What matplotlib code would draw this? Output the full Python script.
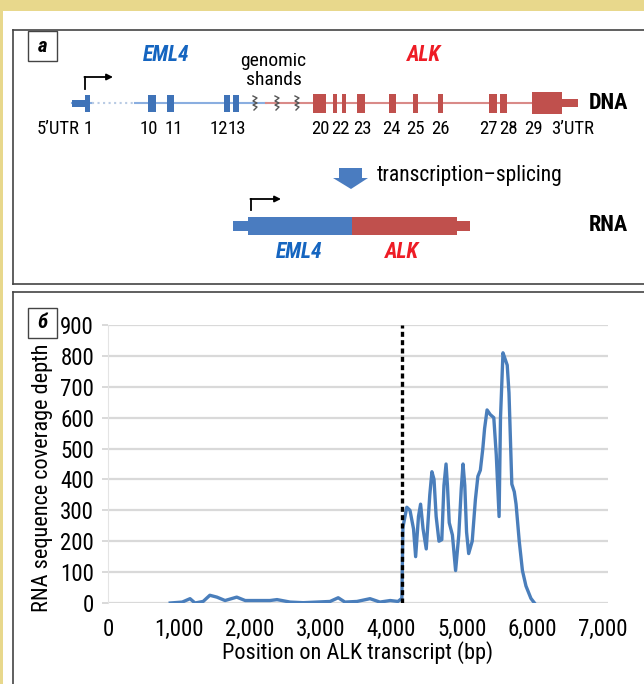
import matplotlib
matplotlib.use("Agg")
import matplotlib.pyplot as plt
from matplotlib.patches import Rectangle, Polygon

# ---- coverage profile ----
position_bp = [880, 1050, 1160, 1230, 1345, 1440, 1540, 1655, 1820, 1940,
               2105, 2290, 2390, 2575, 2760, 2950, 3140, 3255, 3350, 3520,
               3705, 3845, 3990, 4100, 4155, 4170, 4225, 4270, 4320, 4350,
               4390, 4420, 4455, 4500, 4550, 4580, 4610, 4640, 4680, 4720,
               4750, 4780, 4800, 4825, 4870, 4915, 4960, 4995, 5020, 5045,
               5070, 5100, 5150, 5195, 5230, 5265, 5300, 5325, 5360, 5405,
               5455, 5490, 5530, 5550, 5585, 5615, 5645, 5670, 5710, 5745,
               5770, 5815, 5860, 5910, 5980, 6030]
coverage = [0, 3, 14, 0, 5, 25, 19, 8, 19, 8,
            8, 8, 11, 3, 1, 3, 5, 17, 3, 5,
            14, 3, 8, 5, 15, 245, 310, 300, 240, 150,
            280, 320, 240, 175, 350, 425, 400, 280, 200, 205,
            380, 450, 380, 260, 220, 105, 220, 370, 450, 380,
            230, 160, 200, 335, 410, 430, 500, 565, 625, 610,
            600, 480, 280, 600, 810, 790, 770, 680, 385, 360,
            320, 200, 105, 55, 15, 0]
breakpoint_bp = 4160

y_ticks = [0, 100, 200, 300, 400, 500, 600, 700, 800, 900]
x_ticks = [0, 1000, 2000, 3000, 4000, 5000, 6000, 7000]

# ---- schematic gene map (diagram units) ----
eml4_exons = [("1", 85, 90), ("10", 148, 156), ("11", 167, 174),
              ("12", 224, 230), ("13", 233, 239)]
alk_exons = [("20", 313, 326), ("21", 333, 337), ("22", 342, 346),
             ("23", 357, 365), ("24", 389, 396), ("25", 413, 418),
             ("26", 438, 443), ("27", 489, 497), ("28", 500, 507),
             ("29", 532, 562)]
exon_labels = ["10", "11", "12", "13", "20", "22", "23", "24", "25", "26",
               "27", "28", "29", "3’UTR"]
exon_label_x = [149, 174, 219, 237, 320, 340, 362, 391, 415, 440,
                488, 508, 533, 573]
shard_x = [255, 277, 297]

plt.rcParams["font.family"] = ["Roboto Condensed", "DejaVu Sans"]

BLUE = "#3f73b8"
RED = "#c0504d"
TXT_BLUE = "#1565c0"
TXT_RED = "#ee1c25"
FRAME = "#444444"

fig = plt.figure(figsize=(6.44, 6.84), dpi=100)

# overlay in pixel coordinates for frames and the gene diagram
bg = fig.add_axes([0, 0, 1, 1])
bg.set_xlim(0, 644)
bg.set_ylim(684, 0)
bg.axis("off")

# yellow page border
bg.add_patch(Rectangle((0, 0), 644, 11, color="#e8d88c", lw=0))
bg.add_patch(Rectangle((0, 0), 3.5, 684, color="#e8d88c", lw=0))

# panel frames
for y0, y1 in [(30, 284), (292, 700)]:
    bg.plot([13, 650], [y0, y0], color=FRAME, lw=1.2)
    bg.plot([13, 13], [y0, y1], color=FRAME, lw=1.2)
    if y1 < 684:
        bg.plot([13, 650], [y1, y1], color=FRAME, lw=1.2)

for (x0, y0, lab) in [(28, 31, "а"), (28, 308, "б")]:
    bg.add_patch(Rectangle((x0, y0), 29, 30, fill=False, ec=FRAME, lw=1.0))
    bg.text(x0 + 14.5, y0 + 15, lab, ha="center", va="center",
            fontsize=15, fontweight="bold", fontstyle="italic")

# ---- panel a: DNA ----
dna_y = 103
bg.plot([72, 92], [dna_y, dna_y], color="#8aaee0", lw=1.5, zorder=2)
bg.plot([92, 135], [dna_y, dna_y], color="#b9cbe4", lw=1.5, ls=":", zorder=2)
bg.plot([135, 266], [dna_y, dna_y], color="#8aaee0", lw=1.5, zorder=2)
bg.plot([266, 566], [dna_y, dna_y], color="#d98a88", lw=1.5, zorder=2)

bg.add_patch(Rectangle((72, dna_y - 3.5), 13, 7, color=BLUE, lw=0, zorder=3))
for name, x0, x1 in eml4_exons:
    bg.add_patch(Rectangle((x0, dna_y - 8.5), x1 - x0, 17, color=BLUE, lw=0, zorder=3))
for name, x0, x1 in alk_exons:
    h = 22 if name == "29" else 19
    bg.add_patch(Rectangle((x0, dna_y - h / 2), x1 - x0, h, color=RED, lw=0, zorder=3))
bg.add_patch(Rectangle((562, dna_y - 4), 16, 8, color=RED, lw=0, zorder=3))

for sx in shard_x:
    zx = [sx - 2, sx + 2, sx - 2, sx + 2, sx - 2, sx + 2, sx - 1]
    zy = [dna_y - 7, dna_y - 5, dna_y - 2, dna_y, dna_y + 2, dna_y + 4, dna_y + 7]
    bg.plot(zx, zy, color="#555555", lw=1.0, zorder=4)

# start arrow
bg.plot([85, 85], [89, 77], color="black", lw=1.3)
bg.annotate("", xy=(113, 77), xytext=(84.4, 77),
            arrowprops=dict(arrowstyle="-|>", color="black", lw=1.3,
                            mutation_scale=9, shrinkA=0, shrinkB=0))

bg.text(80, 129, "5’UTR", ha="right", va="center", fontsize=13.5)
bg.text(88, 129, "1", ha="center", va="center", fontsize=13.5)
for lab, lx in zip(exon_labels, exon_label_x):
    bg.text(lx, 129, lab, ha="center", va="center", fontsize=13.5)

bg.text(166, 55, "EML4", ha="center", va="center", fontsize=15.5,
        fontweight="bold", fontstyle="italic", color=TXT_BLUE)
bg.text(424, 55, "ALK", ha="center", va="center", fontsize=15.5,
        fontweight="bold", fontstyle="italic", color=TXT_RED)
bg.text(273, 61, "genomic", ha="center", va="center", fontsize=14)
bg.text(274, 80, "shands", ha="center", va="center", fontsize=14)
bg.text(608, 103, "DNA", ha="center", va="center", fontsize=16, fontweight="bold")

# transcription arrow
bg.add_patch(Polygon([(339, 168), (362, 168), (362, 178), (368, 178), (351, 189),
                      (333, 178), (339, 178)], closed=True, color="#4a7cc0", lw=0))
bg.text(377, 176, "transcription–splicing", ha="left", va="center", fontsize=15.5)

# ---- panel a: fused RNA ----
rna_y = 226
bg.add_patch(Rectangle((233, rna_y - 5), 15, 10, color="#4a7cc0", lw=0))
bg.add_patch(Rectangle((248, rna_y - 9), 104, 18, color="#4a7cc0", lw=0))
bg.add_patch(Rectangle((352, rna_y - 9), 105, 18, color=RED, lw=0))
bg.add_patch(Rectangle((457, rna_y - 5), 13, 10, color=RED, lw=0))
bg.plot([251, 251], [210, 199], color="black", lw=1.3)
bg.annotate("", xy=(281, 199), xytext=(250.4, 199),
            arrowprops=dict(arrowstyle="-|>", color="black", lw=1.3,
                            mutation_scale=9, shrinkA=0, shrinkB=0))
bg.text(299, 252, "EML4", ha="center", va="center", fontsize=15.5,
        fontweight="bold", fontstyle="italic", color=TXT_BLUE)
bg.text(402, 252, "ALK", ha="center", va="center", fontsize=15.5,
        fontweight="bold", fontstyle="italic", color=TXT_RED)
bg.text(608, 225, "RNA", ha="center", va="center", fontsize=16, fontweight="bold")

# ---- panel b: coverage chart ----
left, right, top, bottom = 108, 608, 325, 603
ax = fig.add_axes([left / 644, 1 - bottom / 684, (right - left) / 644,
                   (bottom - top) / 684])
ax.set_facecolor("none")
ax.plot(position_bp, coverage, color="#4a7ebb", lw=2.4, zorder=3)
ax.plot([breakpoint_bp, breakpoint_bp], [0, 900], color="black", lw=2.4,
        ls=(0, (1.5, 1.0)), zorder=4)

ax.set_xlim(0, 7070)
ax.set_ylim(0, 900)
ax.set_yticks(y_ticks)
ax.set_xticks(x_ticks)
ax.set_xticklabels([f"{v:,}" for v in x_ticks])
ax.yaxis.grid(True, color="#d9d9d9", lw=1.6)
ax.set_axisbelow(True)
for side in ["top", "right", "bottom"]:
    ax.spines[side].set_visible(False)
ax.spines["left"].set_color("#e4e4e4")
ax.tick_params(axis="y", length=4, width=1.4, color="#d9d9d9", pad=6, labelsize=16.5)
ax.tick_params(axis="x", length=0, pad=11, labelsize=16.5)
ax.set_xlabel("Position on ALK transcript (bp)", fontsize=16, labelpad=0)
ax.set_ylabel("RNA sequence coverage depth", fontsize=16)
ax.yaxis.set_label_coords(-0.11, 0.45)

fig.savefig("out.png", dpi=100)
